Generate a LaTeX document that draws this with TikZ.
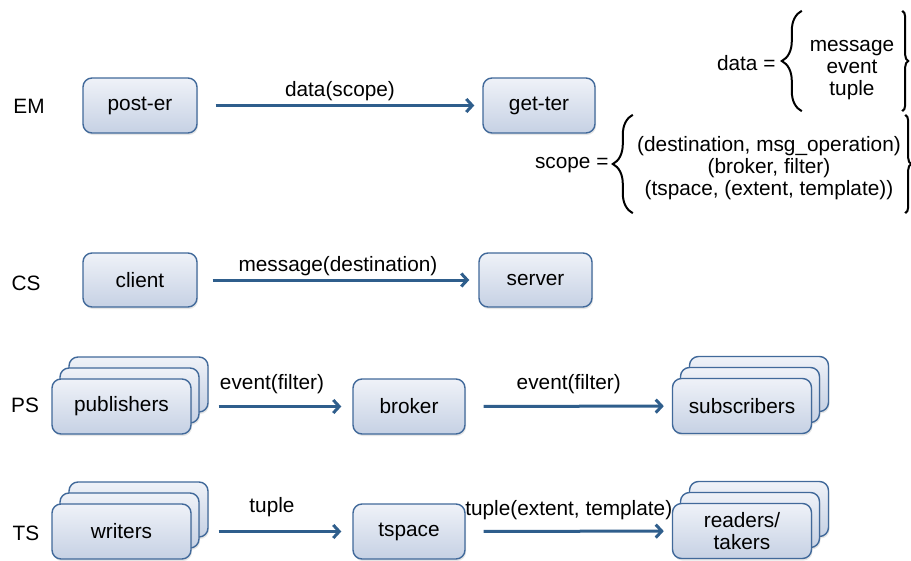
\documentclass[tikz,border=0pt]{standalone}
\usepackage{fontspec}
\setmainfont{Liberation Sans}
\usetikzlibrary{arrows.meta,shadows,decorations.pathreplacing}
\definecolor{boxline}{HTML}{41699A}
\definecolor{boxtop}{HTML}{EFF2F8}
\definecolor{boxbottom}{HTML}{C6D1E4}
\definecolor{flowblue}{HTML}{2F5E8C}

\begin{document}
\begin{tikzpicture}[
        x=1pt, y=-1pt,
        font=\fontsize{20.8}{22}\selectfont,
        box/.style={draw=boxline, line width=1.4pt, rounded corners=9pt, top color=boxtop, bottom color=boxbottom,
            minimum width=114pt, minimum height=55pt, inner sep=2pt, align=center,
            drop shadow={opacity=0.2, shadow xshift=1pt, shadow yshift=-2pt}},
        wide/.style={box, minimum width=139pt},
        flow/.style={draw=flowblue, line width=3pt, -{Straight Barb[length=6pt,width=13pt]}},
        lbl/.style={above, inner sep=#1},
        lbl/.default=3pt,
        curly/.style={decorate, line width=2pt, decoration={brace, amplitude=#1}},
        list/.style={align=center, inner sep=0pt}
    ]
        \useasboundingbox (0,0) rectangle (911,560);

        % EM
        \node (em) at (29,106) {EM};
        \node[box] (poster) at (140,105.5) {post-er};
        \node[box, minimum width=112pt] (getter) at (539,105.5) {get-ter};
        \draw[flow, shorten <=18pt, shorten >=8pt] (poster) -- node[lbl] (emlbl) {data(scope)} (getter);

        \node[anchor=east] (dataeq) at (779,63) {data =};
        \node[list, minimum width=100pt, minimum height=100pt] (datalist) at (852,61)
            {\rule{0pt}{29pt}message\\event\\tuple};
        \draw[curly=20pt] (datalist.south west) -- (datalist.north west);
        \draw[curly=6pt] (datalist.north east) -- (datalist.south east);

        \node[anchor=east] (scopeeq) at (612,165) {scope =};
        \node[list, minimum width=272pt, minimum height=98pt] (scopelist) at (769,164)
            {\rule{0pt}{24pt}(destination, msg\_operation)\\(broker, filter)\\(tspace, (extent, template))};
        \draw[curly=20pt] (scopelist.south west) -- (scopelist.north west);
        \draw[curly=6pt] (scopelist.north east) -- (scopelist.south east);

        % CS
        \node (cs) at (26,283) {CS};
        \node[box, minimum height=54pt] (client) at (140,280) {client};
        \node[box, minimum width=113pt, minimum height=54pt] (server) at (535.5,280) {server};
        \draw[flow, shorten <=15pt, shorten >=9pt] (client) -- node[lbl] (cslbl) {message(destination)} (server);

        % PS
        \node (ps) at (25,405) {PS};
        \node[wide] (pub3) at (138.5,384.5) {};
        \node[wide] (pub2) at (129.5,395.5) {};
        \node[wide] (pub) at (121.5,406.5) {publishers};
        \node[box, minimum width=112pt] (broker) at (409,406.5) {broker};
        \node[wide] (sub3) at (759,384) {};
        \node[wide] (sub2) at (750,395) {};
        \node[wide] (sub) at (742,406) {subscribers};
        \draw[flow, shorten <=27pt, shorten >=11pt] (pub) -- node[lbl=11pt] (pslbl1) {event(filter)} (broker);
        \draw[flow, shorten <=18pt, shorten >=8pt] (broker) -- node[lbl=11pt] (pslbl2) {event(filter)} (sub);

        % TS
        \node (ts) at (26,533) {TS};
        \node[wide] (wri3) at (138.5,509.5) {};
        \node[wide] (wri2) at (129.5,520.5) {};
        \node[wide] (wri) at (121.5,531.5) {writers};
        \node[box, minimum width=112pt] (tspace) at (409,531.5) {tspace};
        \node[wide] (rea3) at (759,509) {};
        \node[wide] (rea2) at (750,520) {};
        \node[wide] (rea) at (742,531) {readers/\\takers};
        \draw[flow, shorten <=27pt, shorten >=11pt] (wri) -- node[lbl=13pt] (tslbl1) {tuple} (tspace);
        \draw[flow, shorten <=18pt, shorten >=8pt] (tspace) -- node[lbl=10pt] (tslbl2) {tuple(extent, template)} (rea);
    \end{tikzpicture}
\end{document}
